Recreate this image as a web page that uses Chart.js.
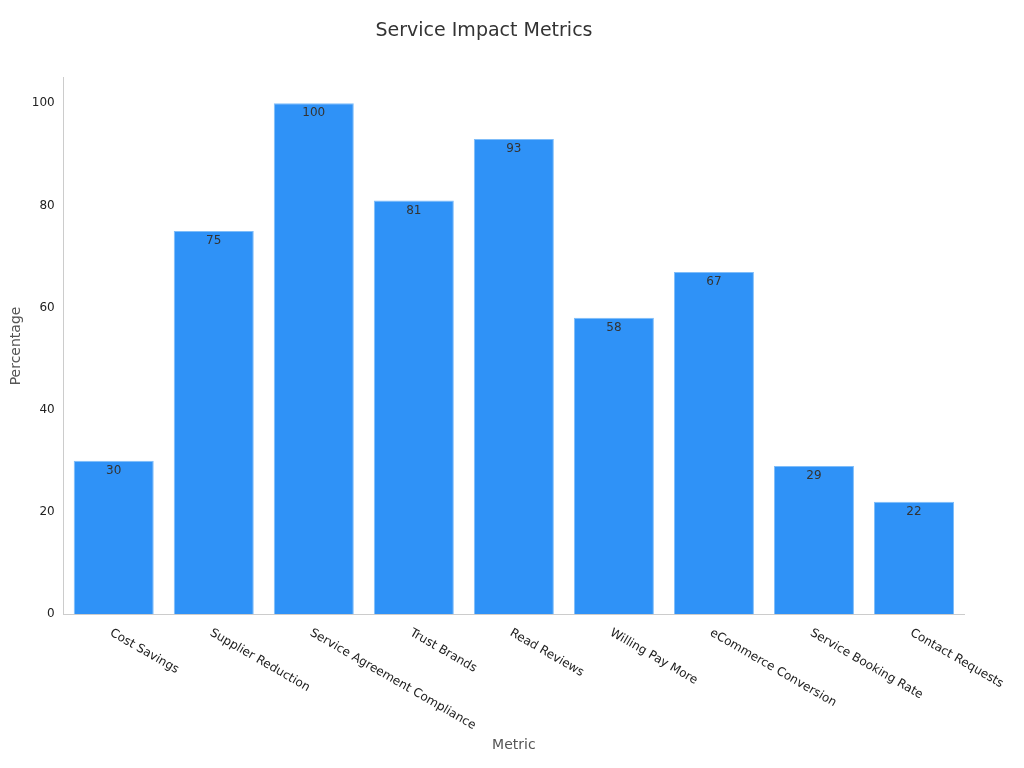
<!DOCTYPE html><html><head><meta charset="utf-8">
<script src="https://cdn.jsdelivr.net/npm/chart.js@4"></script>
<style>body{margin:0;background:#fff}#w{width:1024px;height:768px}</style></head><body><div id="w"><canvas id="c"></canvas></div>
<script>
const categories=["Cost Savings","Supplier Reduction","Service Agreement Compliance","Trust Brands","Read Reviews","Willing Pay More","eCommerce Conversion","Service Booking Rate","Contact Requests"];
const values=[30,75,100,81,93,58,67,29,22];
const yTicks=[0,20,40,60,80,100];
const F="'DejaVu Sans'";
const labelsPlugin={id:'lbl',afterDatasetsDraw(ch){const ctx=ch.ctx,m=ch.getDatasetMeta(0),xs=ch.scales.x,bottom=ch.chartArea.bottom;
ctx.save();ctx.font="12px "+F;ctx.fillStyle="#333";ctx.textAlign="center";ctx.textBaseline="top";
m.data.forEach((b,i)=>ctx.fillText(values[i],b.x,b.y+4));
ctx.fillStyle="#222";ctx.textAlign="left";ctx.textBaseline="middle";
categories.forEach((c,i)=>{const x=xs.getPixelForTick(i);ctx.save();ctx.translate(x-3,bottom+18);ctx.rotate(Math.PI/6);ctx.fillText(c,0,0);ctx.restore();});
ctx.restore();}};
new Chart(document.getElementById('c'),{type:'bar',data:{labels:categories,datasets:[{data:values,backgroundColor:'#2f92f7',borderColor:'#7fbdf9',borderWidth:1,barPercentage:0.8,categoryPercentage:1}]},
options:{responsive:true,maintainAspectRatio:false,animation:false,layout:{padding:{left:4,right:60,top:10,bottom:10}},
plugins:{legend:{display:false},tooltip:{enabled:false},title:{display:true,text:'Service Impact Metrics',color:'#333',font:{family:F,size:19,weight:'normal'},padding:{top:10,bottom:35}}},
scales:{x:{grid:{display:false,drawTicks:true},border:{color:'#ccc'},ticks:{color:'transparent',font:{family:F,size:12},minRotation:30,maxRotation:30,padding:4},
title:{display:true,text:'Metric',color:'#555',font:{family:F,size:14},padding:{top:0}}},
y:{min:0,max:105,afterBuildTicks(a){a.ticks=yTicks.map(v=>({value:v}));},grid:{display:false,drawTicks:true,tickLength:6},border:{color:'#ccc'},ticks:{color:'#222',font:{family:F,size:12}},
title:{display:true,text:'Percentage',color:'#555',font:{family:F,size:14}}}}},plugins:[labelsPlugin]});
</script></body></html>
